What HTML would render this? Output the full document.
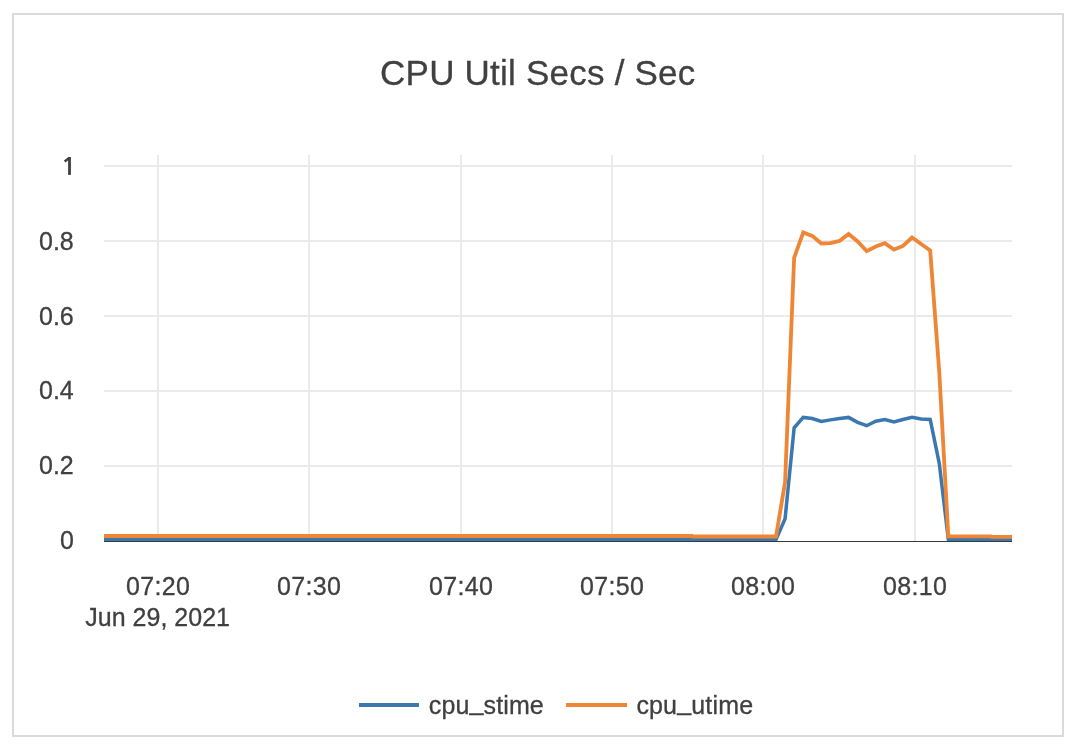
<!DOCTYPE html>
<html><head><meta charset="utf-8"><style>
html,body{margin:0;padding:0;background:#fff;}
svg{display:block;will-change:transform;font-family:"Liberation Sans",sans-serif;}
</style></head><body>
<svg width="1084" height="750" viewBox="0 0 1084 750">
<rect x="13" y="14" width="1050" height="722" fill="#fff" stroke="#dadadd" stroke-width="2"/>
<rect x="157" y="155" width="2" height="386" fill="#ebebeb"/><rect x="308" y="155" width="2" height="386" fill="#ebebeb"/><rect x="460" y="155" width="2" height="386" fill="#ebebeb"/><rect x="611" y="155" width="2" height="386" fill="#ebebeb"/><rect x="762" y="155" width="2" height="386" fill="#ebebeb"/><rect x="914" y="155" width="2" height="386" fill="#ebebeb"/><rect x="104" y="165" width="908" height="2" fill="#ebebeb"/><rect x="104" y="240" width="908" height="2" fill="#ebebeb"/><rect x="104" y="315" width="908" height="2" fill="#ebebeb"/><rect x="104" y="390" width="908" height="2" fill="#ebebeb"/><rect x="104" y="465" width="908" height="2" fill="#ebebeb"/>
<rect x="68.1" y="157" width="2.8" height="17.9" fill="#404040"/>
<path d="M64.6,161.6 L69.2,158.1" stroke="#404040" stroke-width="2.5" fill="none"/>
<g fill="#404040" stroke="#404040" stroke-width="0.3">
<text x="380.10" y="85" font-size="35" letter-spacing="0.222">CPU Util Secs / Sec</text>
<text x="39.00" y="250.45" font-size="25" letter-spacing="0.0">0.8</text>
<text x="39.00" y="325.45" font-size="25" letter-spacing="0.0">0.6</text>
<text x="39.00" y="399.45" font-size="25" letter-spacing="0.0">0.4</text>
<text x="39.00" y="474.45" font-size="25" letter-spacing="0.0">0.2</text>
<text x="60.00" y="549.45" font-size="25" letter-spacing="0.0">0</text>
<text x="126.10" y="595" font-size="25" letter-spacing="0.3">07:20</text>
<text x="277.10" y="595" font-size="25" letter-spacing="0.3">07:30</text>
<text x="429.10" y="595" font-size="25" letter-spacing="0.3">07:40</text>
<text x="580.10" y="595" font-size="25" letter-spacing="0.3">07:50</text>
<text x="731.10" y="595" font-size="25" letter-spacing="0.3">08:00</text>
<text x="883.10" y="595" font-size="25" letter-spacing="0.3">08:10</text>
<text x="85.30" y="626.2" font-size="25" letter-spacing="0.009">Jun 29, 2021</text>
<text x="428.80" y="713.6" font-size="25" letter-spacing="0.125">cpu<tspan dy="-3.5">_</tspan><tspan dy="3.5">stime</tspan></text>
<text x="636.40" y="713.6" font-size="25" letter-spacing="0.162">cpu<tspan dy="-3.5">_</tspan><tspan dy="3.5">utime</tspan></text>
</g>
<path d="M104.00,539.60 L776.00,539.60 L785.07,518.80 L794.14,427.80 L803.21,417.40 L812.28,418.50 L821.35,421.50 L830.42,419.90 L839.49,418.50 L848.56,417.40 L857.63,422.40 L866.70,425.70 L875.77,421.20 L884.84,419.50 L893.91,421.90 L902.98,419.50 L912.05,417.40 L921.12,419.00 L930.19,419.50 L939.26,463.30 L948.33,539.40 L1012.00,539.60" fill="none" stroke="#3b78b0" stroke-width="3.5"/>
<rect x="104" y="541" width="908" height="1" fill="#3a3a3a"/>
<path d="M104.00,536.00 L692.00,536.00 L692.50,536.50 L776.00,536.50 L785.07,482.40 L794.14,257.80 L803.21,232.50 L812.28,235.90 L821.35,243.50 L830.42,243.10 L839.49,240.90 L848.56,233.90 L857.63,241.50 L866.70,251.10 L875.77,246.50 L884.84,243.10 L893.91,249.50 L902.98,245.90 L912.05,237.50 L921.12,244.00 L930.19,250.50 L939.26,372.00 L948.33,536.30 L991.00,536.30 L991.50,536.90 L1012.00,536.90" fill="none" stroke="#ef8636" stroke-width="3.8"/>
<rect x="359" y="703" width="60" height="4" fill="#3b78b0"/>
<rect x="566" y="703" width="61" height="4" fill="#ef8636"/>
</svg>
</body></html>
